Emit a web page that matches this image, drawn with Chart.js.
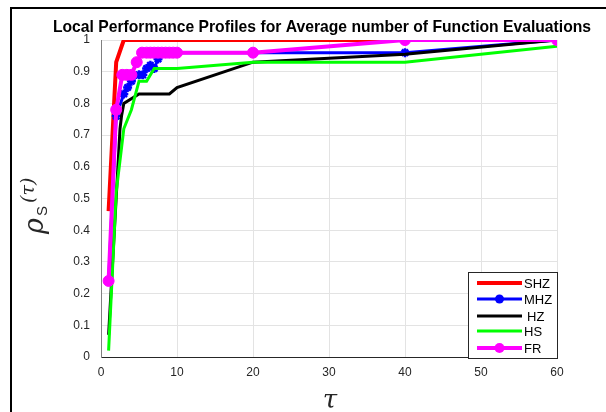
<!DOCTYPE html>
<html>
<head>
<meta charset="utf-8">
<script src="https://cdn.jsdelivr.net/npm/chart.js@4/dist/chart.umd.min.js"></script>
<style>
  html, body { margin: 0; padding: 0; background: #fff; }
  #wrap { width: 606px; height: 412px; }
</style>
</head>
<body>
<div id="wrap"><canvas id="profile" width="606" height="412"></canvas></div>
<script>
const seriesNames = ["SHZ", "MHZ", "HZ", "HS", "FR"];
const seriesColors = ["#ff0000", "#0000ff", "#000000", "#00ff00", "#ff00ff"];

const shzX = [1, 2, 3, 60];
const shzY = [0.46, 0.93, 1.0, 1.0];

const mhzX = [1, 2, 3, 3.5, 4, 5, 5.5, 6, 6.5, 7, 7.5, 8, 8.5, 9, 9.5, 10, 20, 40, 60];
const mhzY = [0.24, 0.76, 0.83, 0.85, 0.87, 0.89, 0.89, 0.91, 0.92, 0.91, 0.94, 0.96, 0.96, 0.96, 0.96, 0.96, 0.96, 0.96, 1.0];

const hzX = [1, 2.5, 2.7, 3, 5, 9, 10, 20, 40, 60];
const hzY = [0.07, 0.72, 0.76, 0.80, 0.83, 0.83, 0.85, 0.93, 0.955, 1.0];

const hsX = [1, 2, 3, 4, 5, 6, 7, 10, 20, 40, 60];
const hsY = [0.02, 0.52, 0.72, 0.78, 0.87, 0.87, 0.91, 0.91, 0.93, 0.93, 0.98];

const frX = [1, 2, 2.8, 3.4, 4, 4.7, 5.4, 6, 6.5, 7, 7.5, 8, 8.5, 9, 9.5, 10, 20, 40, 60];
const frY = [0.24, 0.78, 0.89, 0.89, 0.89, 0.93, 0.96, 0.96, 0.96, 0.96, 0.96, 0.96, 0.96, 0.96, 0.96, 0.96, 0.96, 1.0, 1.0];

const xTicks = [0, 10, 20, 30, 40, 50, 60];
const yTicks = [0, 0.1, 0.2, 0.3, 0.4, 0.5, 0.6, 0.7, 0.8, 0.9, 1];

function pts(xs, ys) {
  return xs.map((x, i) => ({ x: x, y: ys[i] }));
}

// frame, title, axis titles and legend box drawn on the canvas
const decorations = {
  id: "decorations",
  afterDraw(chart) {
    const ctx = chart.ctx;
    ctx.save();
    // outer figure frame (top + left only visible)
    ctx.strokeStyle = "#000";
    ctx.lineWidth = 2;
    ctx.beginPath();
    ctx.moveTo(11, 412);
    ctx.lineTo(11, 8);
    ctx.lineTo(606, 8);
    ctx.stroke();

    // title
    ctx.fillStyle = "#000";
    ctx.font = "bold 15.7px 'Liberation Sans', Arial, sans-serif";
    ctx.textAlign = "center";
    ctx.textBaseline = "alphabetic";
    ctx.fillText("Local Performance Profiles for Average number of Function Evaluations", 322, 32);

    // x title
    ctx.fillStyle = "#262626";
    ctx.font = "italic 26px 'DejaVu Serif', serif";
    ctx.fillText("\u03c4", 330, 408);

    // y title rho_S(tau), rotated
    ctx.rotate(-Math.PI / 2);
    ctx.textAlign = "left";
    ctx.font = "italic 27px 'DejaVu Serif', serif";
    ctx.fillText("\u03c1", -234, 43);
    ctx.font = "15px 'Liberation Sans', Arial, sans-serif";
    ctx.fillText("S", -216, 47);
    ctx.font = "italic 19px 'DejaVu Serif', serif";
    ctx.fillText("(\u03c4)", -203, 34);
    ctx.restore();

    // legend
    ctx.save();
    const bx = 468, by = 272, bw = 89, bh = 86;
    ctx.fillStyle = "#fff";
    ctx.fillRect(bx, by, bw, bh);
    ctx.strokeStyle = "#262626";
    ctx.lineWidth = 1;
    ctx.strokeRect(bx + 0.5, by + 0.5, bw, bh);
    const rows = [283, 299, 316, 331, 348];
    ctx.font = "13px 'Liberation Sans', Arial, sans-serif";
    ctx.textBaseline = "middle";
    seriesNames.forEach((name, i) => {
      const ds = chart.data.datasets[i];
      const y = rows[i];
      ctx.strokeStyle = ds.borderColor;
      ctx.lineWidth = ds.borderWidth;
      ctx.beginPath();
      ctx.moveTo(477, y);
      ctx.lineTo(522, y);
      ctx.stroke();
      if (ds.pointRadius > 0) {
        ctx.fillStyle = ds.borderColor;
        ctx.beginPath();
        ctx.arc(499.5, y, ds.pointStyle === "star" ? 4.5 : 5, 0, Math.PI * 2);
        ctx.fill();
      }
      ctx.fillStyle = "#000";
      ctx.fillText(name, name === "HZ" ? 527 : 524, y + 1);
    });
    ctx.restore();
  }
};

const datasets = [
  { label: "SHZ", data: pts(shzX, shzY), borderColor: seriesColors[0], borderWidth: 4, pointRadius: 0, order: 5 },
  { label: "MHZ", data: pts(mhzX, mhzY), borderColor: seriesColors[1], backgroundColor: seriesColors[1], borderWidth: 3,
    pointStyle: "star", pointRadius: 4.5, pointBorderWidth: 2.5, order: 4 },
  { label: "HZ", data: pts(hzX, hzY), borderColor: seriesColors[2], borderWidth: 3, pointRadius: 0, order: 3 },
  { label: "HS", data: pts(hsX, hsY), borderColor: seriesColors[3], borderWidth: 3, pointRadius: 0, order: 2 },
  { label: "FR", data: pts(frX, frY), borderColor: seriesColors[4], backgroundColor: seriesColors[4], borderWidth: 4,
    pointStyle: "circle", pointRadius: 5.5, pointBorderWidth: 1, order: 1 }
];

new Chart(document.getElementById("profile"), {
  type: "line",
  data: { datasets: datasets },
  options: {
    responsive: false,
    animation: false,
    events: [],
    layout: { padding: { left: 0, top: 40, right: 49, bottom: 0 } },
    plugins: { legend: { display: false }, tooltip: { enabled: false }, title: { display: false } },
    elements: { line: { tension: 0, fill: false } },
    scales: {
      x: {
        type: "linear",
        min: 0, max: 60,
        afterFit: (s) => { s.height = 55; },
        afterBuildTicks: (s) => { s.ticks = xTicks.map(v => ({ value: v })); },
        grid: { color: "#e3e3e3", drawTicks: false, lineWidth: 1 },
        border: { color: "#262626", width: 1 },
        ticks: { color: "#262626", padding: 8, font: { size: 12, family: "'Liberation Sans', Arial, sans-serif" } }
      },
      y: {
        type: "linear",
        min: 0, max: 1,
        afterFit: (s) => { s.width = 101; },
        afterBuildTicks: (s) => { s.ticks = yTicks.map(v => ({ value: v })); },
        grid: { color: "#e3e3e3", drawTicks: false, lineWidth: 1 },
        border: { color: "#808080", width: 1 },
        ticks: { color: "#262626", padding: 11, font: { size: 12, family: "'Liberation Sans', Arial, sans-serif" },
          callback: (v) => String(Math.round(v * 10) / 10) }
      }
    }
  },
  plugins: [decorations]
});
</script>
</body>
</html>
